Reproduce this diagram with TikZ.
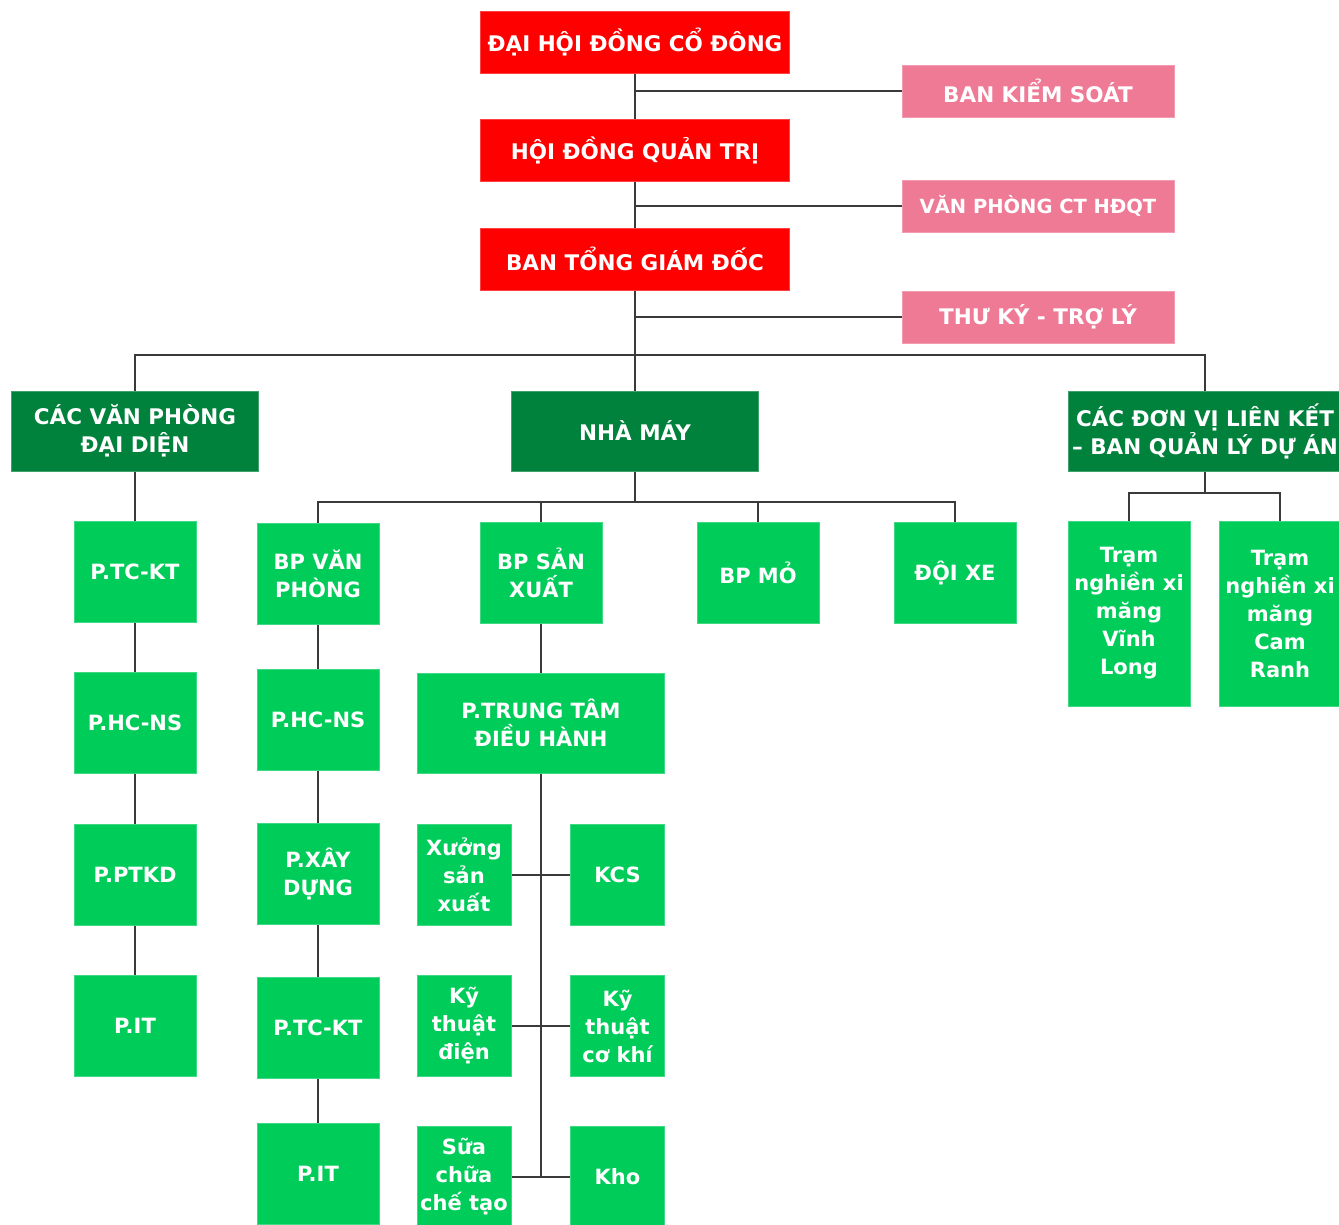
\documentclass[tikz,border=0pt]{standalone}
\usepackage{fontspec}
\setmainfont{DejaVu Sans}
\usetikzlibrary{backgrounds}
\definecolor{cred}{HTML}{FF0000}
\definecolor{cpink}{HTML}{EF7A96}
\definecolor{cdark}{HTML}{00823C}
\definecolor{cgreen}{HTML}{00CC5A}
\definecolor{cline}{HTML}{3A3A3A}
\tikzset{
  box/.style={rectangle, inner sep=0pt, align=center, text=white,
    font=\bfseries\fontsize{21}{28}\selectfont},
  topbox/.style={box, font=\bfseries\fontsize{21.5}{28}\selectfont},
  redbox/.style={topbox, fill=cred, draw=cred!75!white, line width=0.8pt},
  pinkbox/.style={topbox, fill=cpink, draw=cpink!75!white, line width=0.8pt},
  darkbox/.style={topbox, fill=cdark, draw=cdark!75!white, line width=0.8pt},
  greenbox/.style={box, fill=cgreen, draw=cgreen!75!white, line width=0.8pt},
  conn/.style={draw=cline, line width=1.4pt},
}
\begin{document}
\begin{tikzpicture}[x=1pt, y=-1pt]
\useasboundingbox (0,0) rectangle (1339,1225);
\clip (0,0) rectangle (1339,1225);

% top level
\node[redbox, minimum width=309pt, minimum height=62pt] (dhcd) at (635,42) {ĐẠI HỘI ĐỒNG CỔ ĐÔNG};
\node[pinkbox, minimum width=272pt, minimum height=52pt] (bks) at (1038,91) {BAN KIỂM SOÁT};
\node[redbox, minimum width=309pt, minimum height=62pt] (hdqt) at (635,150) {HỘI ĐỒNG QUẢN TRỊ};
\node[pinkbox, minimum width=272pt, minimum height=52pt, font=\bfseries\fontsize{19.5}{28}\selectfont] (vpct) at (1038,206) {VĂN PHÒNG CT HĐQT};
\node[redbox, minimum width=309pt, minimum height=62pt] (btgd) at (635,259) {BAN TỔNG GIÁM ĐỐC};
\node[pinkbox, minimum width=272pt, minimum height=52pt] (tk) at (1038,317) {THƯ KÝ - TRỢ LÝ};

% second level
\node[darkbox, minimum width=247pt, minimum height=80pt] (cvp) at (135,431) {CÁC VĂN PHÒNG\\ĐẠI DIỆN};
\node[darkbox, minimum width=247pt, minimum height=80pt] (nm) at (635,431) {NHÀ MÁY};
\node[darkbox, minimum width=274pt, minimum height=80pt] (ldv) at (1205,431) {CÁC ĐƠN VỊ LIÊN KẾT\\– BAN QUẢN LÝ DỰ ÁN};

% left column
\node[greenbox, minimum width=122pt, minimum height=101pt] (ptckt1) at (135,571.5) {P.TC-KT};
\node[greenbox, minimum width=122pt, minimum height=101pt] (phcns1) at (135,723) {P.HC-NS};
\node[greenbox, minimum width=122pt, minimum height=101pt] (pptkd) at (135,874.5) {P.PTKD};
\node[greenbox, minimum width=122pt, minimum height=101pt] (pit1) at (135,1026) {P.IT};

% second column
\node[greenbox, minimum width=122pt, minimum height=101pt] (bpvp) at (318,573.5) {BP VĂN\\PHÒNG};
\node[greenbox, minimum width=122pt, minimum height=101pt] (phcns2) at (318,719.5) {P.HC-NS};
\node[greenbox, minimum width=122pt, minimum height=101pt] (pxd) at (318,873.5) {P.XÂY\\DỰNG};
\node[greenbox, minimum width=122pt, minimum height=101pt] (ptckt2) at (318,1027.5) {P.TC-KT};
\node[greenbox, minimum width=122pt, minimum height=101pt] (pit2) at (318,1174) {P.IT};

% factory departments
\node[greenbox, minimum width=122pt, minimum height=101pt] (bpsx) at (541,572.5) {BP SẢN\\XUẤT};
\node[greenbox, minimum width=122pt, minimum height=101pt] (bpmo) at (758,572.5) {BP MỎ};
\node[greenbox, minimum width=122pt, minimum height=101pt] (dx) at (955,572.5) {ĐỘI XE};
\node[greenbox, minimum width=247pt, minimum height=100pt] (pttdh) at (541,723) {P.TRUNG TÂM\\ĐIỀU HÀNH};
\node[greenbox, minimum width=94pt, minimum height=101pt] (xsx) at (464,875) {Xưởng\\sản\\xuất};
\node[greenbox, minimum width=94pt, minimum height=101pt] (kcs) at (617.5,875) {KCS};
\node[greenbox, minimum width=94pt, minimum height=101pt] (ktd) at (464,1026) {Kỹ\\thuật\\điện};
\node[greenbox, minimum width=94pt, minimum height=101pt] (ktck) at (617.5,1026) {Kỹ\\thuật\\cơ khí};
\node[greenbox, minimum width=94pt, minimum height=101pt] (scct) at (464,1177) {Sữa\\chữa\\chế tạo};
\node[greenbox, minimum width=94pt, minimum height=101pt] (kho) at (617.5,1177) {Kho};

% affiliated stations
\node[greenbox, minimum width=122pt, minimum height=185pt] (tram1) at (1129,613.5) {Trạm\\nghiền xi\\măng\\Vĩnh\\Long};
\node[greenbox, minimum width=122pt, minimum height=185pt] (tram2) at (1280,613.5) {Trạm\\nghiền xi\\măng\\Cam\\Ranh};

\coordinate (busL) at (135,355);
\coordinate (busN) at (635,502);
\coordinate (busR) at (1205,493);

\begin{scope}[on background layer]
  \draw[conn] (dhcd.south) -- (nm.north);
  \draw[conn] (dhcd.south |- bks.west) -- (bks.west);
  \draw[conn] (dhcd.south |- vpct.west) -- (vpct.west);
  \draw[conn] (dhcd.south |- tk.west) -- (tk.west);
  \draw[conn] (cvp.north) -- (busL) -| (ldv.north);
  % left column
  \draw[conn] (cvp.south) -- (ptckt1.north);
  \draw[conn] (ptckt1.south) -- (phcns1.north);
  \draw[conn] (phcns1.south) -- (pptkd.north);
  \draw[conn] (pptkd.south) -- (pit1.north);
  % factory bus
  \draw[conn] (nm.south) -- (busN);
  \draw[conn] (bpvp.north) |- (busN) -| (dx.north);
  \draw[conn] (bpsx.north) -- (bpsx.north |- busN);
  \draw[conn] (bpmo.north) -- (bpmo.north |- busN);
  % second column
  \draw[conn] (bpvp.south) -- (phcns2.north);
  \draw[conn] (phcns2.south) -- (pxd.north);
  \draw[conn] (pxd.south) -- (ptckt2.north);
  \draw[conn] (ptckt2.south) -- (pit2.north);
  % production
  \draw[conn] (bpsx.south) -- (pttdh.north);
  \draw[conn] (pttdh.south) -- (pttdh.south |- scct.east);
  \draw[conn] (xsx.east) -- (kcs.west);
  \draw[conn] (ktd.east) -- (ktck.west);
  \draw[conn] (scct.east) -- (kho.west);
  % right group
  \draw[conn] (ldv.south) -- (busR);
  \draw[conn] (tram1.north) |- (busR) -| (tram2.north);
\end{scope}
\end{tikzpicture}
\end{document}
